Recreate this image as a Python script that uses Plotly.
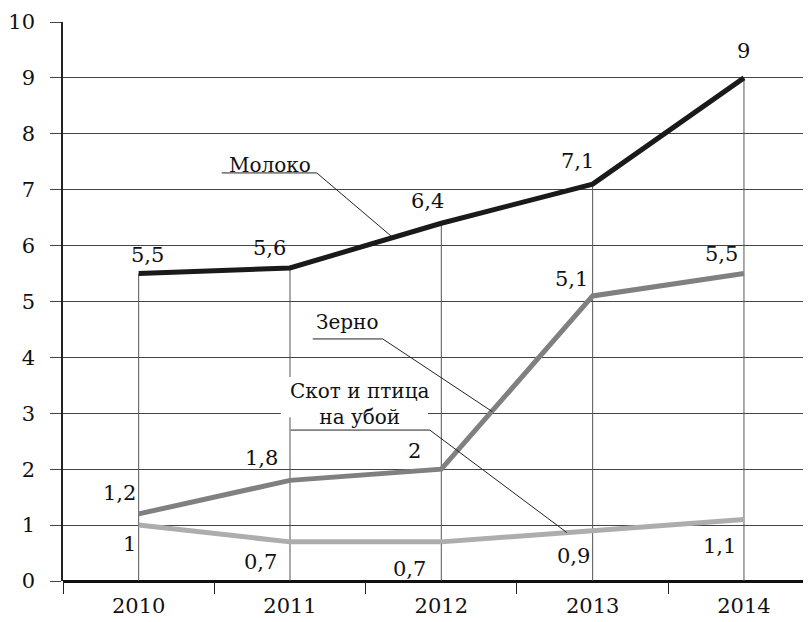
import plotly.graph_objects as go

years = ["2010", "2011", "2012", "2013", "2014"]
milk = [5.5, 5.6, 6.4, 7.1, 9]
grain = [1.2, 1.8, 2, 5.1, 5.5]
cattle = [1, 0.7, 0.7, 0.9, 1.1]
milk_lbl = ["5,5", "5,6", "6,4", "7,1", "9"]
grain_lbl = ["1,2", "1,8", "2", "5,1", "5,5"]
cattle_lbl = ["1", "0,7", "0,7", "0,9", "1,1"]

FONT = "DejaVu Serif, Liberation Serif, serif"
idx = list(range(len(years)))

fig = go.Figure()

# drop lines
dx, dy = [], []
for i in idx:
    dx += [years[i], years[i], None]
    dy += [0, max(milk[i], grain[i], cattle[i]), None]
fig.add_trace(go.Scatter(x=dx, y=dy, mode="lines", line=dict(color="#555", width=1),
                         hoverinfo="skip", showlegend=False))

for vals, col in [(cattle, "#adadad"), (grain, "#808080"), (milk, "#1a1a1a")]:
    fig.add_trace(go.Scatter(x=years, y=vals, mode="lines",
                             line=dict(color=col, width=5), showlegend=False))

ann = []
def lab(x, y, t, xs, ys):
    ann.append(dict(x=x, y=y, xref="x", yref="y", text=t, showarrow=False,
                    xshift=xs, yshift=ys, font=dict(family=FONT, size=21, color="#111")))

milk_off = [(9, 19), (-20, 20), (-14, 22), (-15, 23), (0, 27)]
grain_off = [(-19, 21), (-28, 22), (-27, 18), (-21, 17), (-22, 20)]
cattle_off = [(-9, -19), (-29, -20), (-32, -27), (-19, -25), (-24, -26)]
for i in idx:
    lab(i, milk[i], milk_lbl[i], *milk_off[i])
    lab(i, grain[i], grain_lbl[i], *grain_off[i])
    lab(i, cattle[i], cattle_lbl[i], *cattle_off[i])

def interp(vals, x):
    i = int(x)
    t = x - i
    return vals[i] + t * (vals[i + 1] - vals[i])

# white backing box behind the two-line label
shapes = [dict(type="rect", xref="x", yref="y", x0=0.939, x1=1.911, y0=2.93, y1=3.65,
               fillcolor="white", line=dict(width=0), layer="above")]

def callout(x0, x1, y, xe, vals):
    ye = interp(vals, xe)
    shapes.append(dict(type="line", xref="x", yref="y", x0=x0, x1=x1, y0=y, y1=y,
                       line=dict(color="#222", width=1)))
    shapes.append(dict(type="line", xref="x", yref="y", x0=x1, x1=xe, y0=y, y1=ye,
                       line=dict(color="#222", width=1)))

callout(0.549, 1.177, 7.30, 1.68, milk)
callout(1.150, 1.613, 4.33, 2.334, grain)
callout(1.005, 1.924, 2.70, 2.83, cattle)

ann.append(dict(x=0.866, y=7.45, xref="x", yref="y", text="Молоко", showarrow=False,
                font=dict(family=FONT, size=20, color="#111")))
ann.append(dict(x=1.38, y=4.63, xref="x", yref="y", text="Зерно", showarrow=False,
                font=dict(family=FONT, size=20, color="#111")))
ann.append(dict(x=1.461, y=3.17, xref="x", yref="y", text="Скот и птица<br>на убой",
                showarrow=False,
                font=dict(family=FONT, size=20, color="#111")))

fig.update_layout(
    width=803, height=614,
    margin=dict(l=55, r=0, t=14, b=41),
    paper_bgcolor="white", plot_bgcolor="white",
    annotations=ann, shapes=shapes,
    xaxis=dict(type="category", range=[-0.5, 4.443], tickson="boundaries",
               ticks="outside", ticklen=12, tickcolor="#222", tickwidth=1,
               showgrid=False, showline=False, zeroline=False, automargin=False,
               ticklabelstandoff=10,
               tickfont=dict(family=FONT, size=21, color="#111")),
    yaxis=dict(range=[0, 10], dtick=1, ticks="outside", ticklen=11, tickcolor="#444",
               showgrid=True, gridcolor="#444", gridwidth=1,
               showline=True, linecolor="#222", linewidth=1.5, automargin=False,
               zeroline=True, zerolinecolor="#111", zerolinewidth=3,
               ticklabelstandoff=11,
               tickfont=dict(family=FONT, size=21, color="#111")),
)
fig.write_html("out.html")
